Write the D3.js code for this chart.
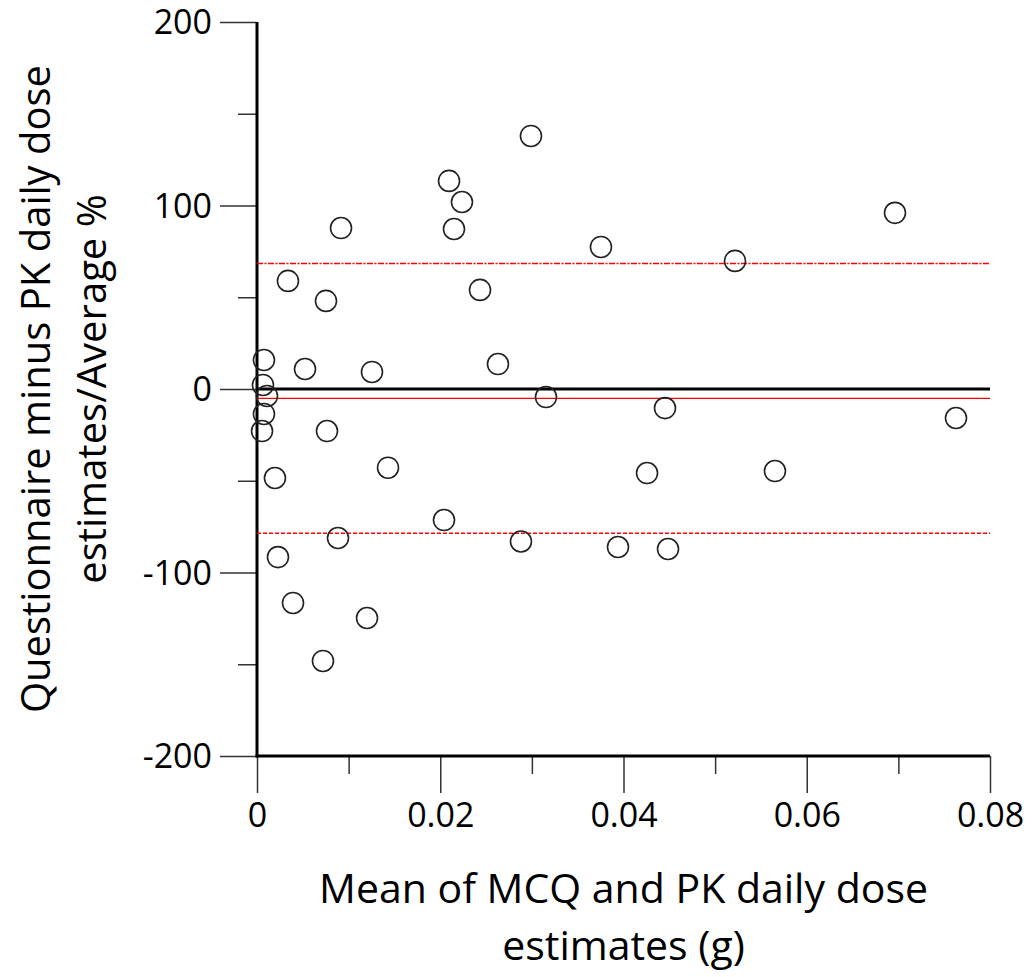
<!DOCTYPE html>
<html>
<head>
<meta charset="utf-8">
<script src="https://cdn.jsdelivr.net/npm/d3@7"></script>
<style>
  body { margin: 0; background: #fff; }
  text { font-family: "Open Sans", "Noto Sans", sans-serif; fill: #000; }
</style>
</head>
<body>
<div id="chart"></div>
<script>
// mean of the two estimates (g) and difference as % of the average
const meanDose = [
  0.00076, 0.00065, 0.00109, 0.00076, 0.00055,
  0.00524, 0.01255, 0.00764, 0.01430, 0.00196,
  0.00338, 0.00753, 0.00917,
  0.00884, 0.00229, 0.00393, 0.01201, 0.00720,
  0.02096, 0.02237, 0.02150, 0.02434, 0.02990, 0.02630, 0.03154, 0.02041, 0.02881,
  0.03754, 0.05217, 0.06963, 0.04453, 0.07629,
  0.03940, 0.04486, 0.04257, 0.05653
];
const pctDiff = [
  15.8, 2.2, -3.8, -13.6, -22.9,
  10.9, 9.3, -22.9, -42.9, -48.5,
  58.9, 48.0, 87.7,
  -81.2, -91.6, -116.6, -124.8, -148.2,
  113.4, 101.9, 87.2, 54.0, 137.9, 13.6, -4.4, -71.4, -83.1,
  77.4, 69.8, 96.0, -10.4, -15.8,
  -86.1, -87.2, -45.8, -44.7
];

// bias and limits of agreement
const bias = -5.1;
const upperLoA = 68.4;
const lowerLoA = -78.6;

const xTicks = [0, 0.02, 0.04, 0.06, 0.08];
const xMinorTicks = [0.01, 0.03, 0.05, 0.07];
const yTicks = [-200, -100, 0, 100, 200];
const yMinorTicks = [-150, -50, 50, 150];

const xTitle = ["Mean of MCQ and PK daily dose", "estimates (g)"];
const yTitle = ["Questionnaire minus PK daily dose", "estimates/Average %"];

//-----------------------------SVG------------------------------//
const width = 1033;
const height = 977;
const plotL = 257, plotR = 990, plotT = 22, plotB = 756;

const svg = d3.select("#chart")
  .append("svg")
  .attr("width", width)
  .attr("height", height);

//----------------------------SCALES----------------------------//
const xScale = d3.scaleLinear().domain([0, 0.08]).range([plotL, plotR]);
const yScale = d3.scaleLinear().domain([-200, 200]).range([plotB, plotT]);

//-----------------------------AXES-----------------------------//
const fmtX = d => d === 0 ? "0" : d3.format(".2f")(d);
const fmtY = d => String(d); // plain hyphen for negatives

const xMinor = svg.append("g")
  .attr("transform", "translate(0," + plotB + ")")
  .call(d3.axisBottom(xScale).tickValues(xMinorTicks).tickSize(18).tickSizeOuter(0).tickFormat(""));
const xMajor = svg.append("g")
  .attr("transform", "translate(0," + plotB + ")")
  .call(d3.axisBottom(xScale).tickValues(xTicks).tickSize(37).tickSizeOuter(0).tickPadding(10).tickFormat(fmtX));

const yMinor = svg.append("g")
  .attr("transform", "translate(" + plotL + ",0)")
  .call(d3.axisLeft(yScale).tickValues(yMinorTicks).tickSize(19).tickSizeOuter(0).tickFormat(""));
const yMajor = svg.append("g")
  .attr("transform", "translate(" + plotL + ",0)")
  .call(d3.axisLeft(yScale).tickValues(yTicks).tickSize(37).tickSizeOuter(0).tickPadding(8).tickFormat(fmtY));

[xMinor, xMajor, yMinor, yMajor].forEach(function(g) {
  g.select(".domain").remove();
  g.selectAll(".tick line").attr("stroke", "#333").attr("stroke-width", 1.5);
  g.selectAll(".tick text").style("font-size", "34px").attr("fill", "#000");
});
yMajor.selectAll(".tick text").attr("dy", "0.34em");

// axis lines
svg.append("line")
  .attr("x1", plotL).attr("x2", plotL)
  .attr("y1", yScale(200)).attr("y2", yScale(-200) + 1.5)
  .attr("stroke", "#000").attr("stroke-width", 3);
svg.append("line")
  .attr("x1", plotL - 1.5).attr("x2", plotR)
  .attr("y1", plotB).attr("y2", plotB)
  .attr("stroke", "#000").attr("stroke-width", 3);

//--------------------------REF LINES---------------------------//
svg.append("line")
  .attr("x1", plotL).attr("x2", plotR)
  .attr("y1", yScale(upperLoA)).attr("y2", yScale(upperLoA))
  .attr("stroke", "#f00").attr("stroke-width", 1.4)
  .attr("stroke-dasharray", "6,1.5,2,1.5");
svg.append("line")
  .attr("x1", plotL).attr("x2", plotR)
  .attr("y1", yScale(lowerLoA)).attr("y2", yScale(lowerLoA))
  .attr("stroke", "#f00").attr("stroke-width", 1.4)
  .attr("stroke-dasharray", "4,2");
svg.append("line")
  .attr("x1", plotL).attr("x2", plotR)
  .attr("y1", yScale(bias)).attr("y2", yScale(bias))
  .attr("stroke", "#f00").attr("stroke-width", 1.3);
svg.append("line")
  .attr("x1", plotL).attr("x2", plotR)
  .attr("y1", yScale(0)).attr("y2", yScale(0))
  .attr("stroke", "#000").attr("stroke-width", 3);

//----------------------------POINTS----------------------------//
svg.append("g")
  .selectAll("circle")
  .data(meanDose)
  .enter()
  .append("circle")
  .attr("cx", d => xScale(d))
  .attr("cy", (d, i) => yScale(pctDiff[i]))
  .attr("r", 10.5)
  .attr("fill", "none")
  .attr("stroke", "#222")
  .attr("stroke-width", 1.6);

//----------------------------TITLES----------------------------//
svg.append("g")
  .selectAll("text")
  .data(xTitle)
  .enter()
  .append("text")
  .attr("x", (plotL + plotR) / 2)
  .attr("y", (d, i) => 903 + i * 57)
  .attr("text-anchor", "middle")
  .style("font-size", "41px")
  .text(d => d);

svg.append("g")
  .selectAll("text")
  .data(yTitle)
  .enter()
  .append("text")
  .attr("transform", (d, i) => "translate(" + (50 + i * 56) + "," + yScale(0) + ") rotate(-90)")
  .attr("text-anchor", "middle")
  .style("font-size", "40px")
  .text(d => d);
</script>
</body>
</html>
